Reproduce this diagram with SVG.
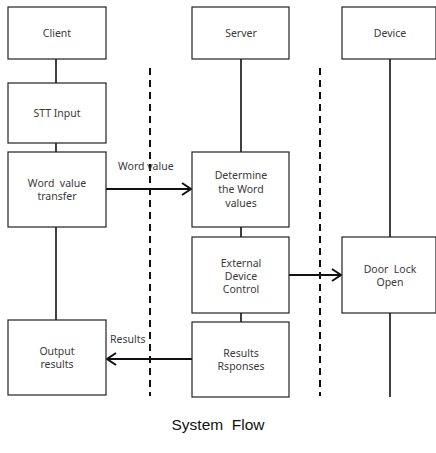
<svg xmlns="http://www.w3.org/2000/svg" width="436" height="453" viewBox="0 0 436 453">
<defs>
<style>
text{white-space:pre}
.box{fill:#fff;stroke:#222;stroke-width:1.2}
.t{font-family:"Noto Sans","Liberation Sans",sans-serif;font-size:10.5px;fill:#3a3a3a;text-anchor:middle}
.lbl{font-family:"Noto Sans","Liberation Sans",sans-serif;font-size:10.5px;fill:#3a3a3a}
.life{stroke:#111;stroke-width:1.6;fill:none}
.dash{stroke:#111;stroke-width:2;stroke-dasharray:7 5;fill:none}
.arr{stroke:#111;stroke-width:2;fill:none}
</style>
<marker id="ah" markerWidth="12" markerHeight="16" refX="10" refY="7" orient="auto" markerUnits="userSpaceOnUse">
<path d="M1,1 L10,7 L1,13" fill="none" stroke="#111" stroke-width="2"/>
</marker>
</defs>
<rect width="436" height="453" fill="#fff"/>
<g id="connectors">
<line class="life" x1="56" y1="59" x2="56" y2="83"/>
<line class="life" x1="56" y1="143" x2="56" y2="152"/>
<line class="life" x1="56" y1="227" x2="56" y2="320"/>
<line class="life" x1="241" y1="59" x2="241" y2="152"/>
<line class="life" x1="241" y1="227" x2="241" y2="237"/>
<line class="life" x1="241" y1="313" x2="241" y2="322"/>
<line class="life" x1="390" y1="59" x2="390" y2="237"/>
<line class="life" x1="390" y1="313" x2="390" y2="397"/>
<line class="dash" x1="150" y1="68" x2="150" y2="396"/>
<line class="dash" x1="320" y1="68" x2="320" y2="396"/>
<line class="arr" x1="106" y1="189" x2="191" y2="189" marker-end="url(#ah)"/>
<line class="arr" x1="289" y1="275" x2="341" y2="275" marker-end="url(#ah)"/>
<line class="arr" x1="192" y1="359" x2="107" y2="359" marker-end="url(#ah)"/>
<text class="lbl" x="118" y="170">Word value</text>
<text class="lbl" x="110" y="343">Results</text>
</g>
<g id="client"><rect class="box" x="8" y="7" width="98" height="52"/><text class="t" x="57" y="37">Client</text></g>
<g id="stt"><rect class="box" x="8" y="83" width="98" height="60"/><text class="t" x="57" y="117">STT Input</text></g>
<g id="wvt"><rect class="box" x="8" y="152" width="98" height="75"/><text class="t" x="57" y="187">Word  value</text><text class="t" x="57" y="200">transfer</text></g>
<g id="output"><rect class="box" x="8" y="320" width="98" height="75"/><text class="t" x="57" y="355">Output</text><text class="t" x="57" y="368">results</text></g>
<g id="server"><rect class="box" x="192" y="7" width="97" height="52"/><text class="t" x="241" y="37">Server</text></g>
<g id="determine"><rect class="box" x="192" y="152" width="97" height="75"/><text class="t" x="241" y="179">Determine</text><text class="t" x="241" y="193">the Word</text><text class="t" x="241" y="207">values</text></g>
<g id="external"><rect class="box" x="192" y="237" width="97" height="76"/><text class="t" x="241" y="267">External</text><text class="t" x="241" y="280">Device</text><text class="t" x="241" y="293">Control</text></g>
<g id="results"><rect class="box" x="192" y="322" width="97" height="75"/><text class="t" x="241" y="357">Results</text><text class="t" x="241" y="370">Rsponses</text></g>
<g id="device"><rect class="box" x="342" y="7" width="94" height="52"/><text class="t" x="390" y="37">Device</text></g>
<g id="doorlock"><rect class="box" x="342" y="237" width="94" height="76"/><text class="t" x="390" y="273">Door  Lock</text><text class="t" x="390" y="286">Open</text></g>
<text x="218" y="430" font-family="'Liberation Sans',Arial,sans-serif" font-size="15.5" fill="#111" text-anchor="middle">System  Flow</text>
</svg>
